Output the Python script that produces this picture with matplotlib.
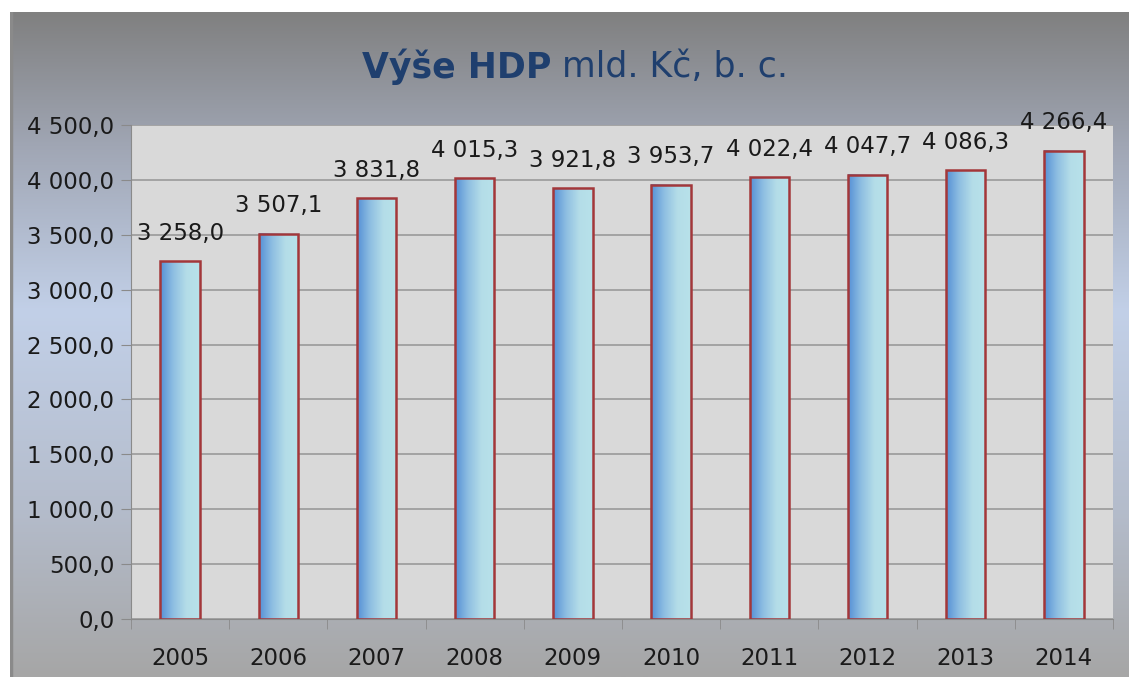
import matplotlib
matplotlib.use("Agg")
import matplotlib.pyplot as plt
import numpy as np
from matplotlib.colors import LinearSegmentedColormap
from matplotlib.ticker import FuncFormatter, MultipleLocator

years = ["2005", "2006", "2007", "2008", "2009", "2010", "2011", "2012", "2013", "2014"]
values = [3258.0, 3507.1, 3831.8, 4015.3, 3921.8, 3953.7, 4022.4, 4047.7, 4086.3, 4266.4]

plt.rcParams['font.family'] = ['DejaVu Sans']

W, H = 1129, 677
fig = plt.figure(figsize=(W / 100, H / 100), dpi=100)
fig.patch.set_facecolor("white")

# chart background gradient
bg_ax = fig.add_axes([10 / W, 0, 1 - 10 / W, 1 - 12 / H])
bg_ax.set_axis_off()
bg_cmap = LinearSegmentedColormap.from_list(
    "bg", [(0.0, "#808080"), (0.2, "#a0a6b4"), (0.45, "#c2d0e8"), (0.75, "#b4bccb"), (1.0, "#a6a6a6")])
grad = np.linspace(0, 1, 256).reshape(-1, 1)
bg_ax.imshow(grad, aspect="auto", cmap=bg_cmap, extent=[0, 1, 0, 1], origin="upper")
bg_ax.set_xlim(0, 1)
bg_ax.set_ylim(0, 1)
bg_ax.axvline(0.001, color="#8a8a8a", lw=2.5)

# plot area
x0, x1 = 131, 1113
y0, y1 = 125, 619
ax = fig.add_axes([x0 / W, 1 - y1 / H, (x1 - x0) / W, (y1 - y0) / H])
ax.set_facecolor("#d9d9d9")
ax.yaxis.set_major_locator(MultipleLocator(500))

def fmt(v, pos=None):
    return f"{v:,.1f}".replace(",", " ").replace(".", ",")

ax.yaxis.set_major_formatter(FuncFormatter(fmt))
ax.grid(axis="y", color="#9a9a9a", lw=1.2)
ax.set_axisbelow(True)

bar_cmap = LinearSegmentedColormap.from_list("bar", ["#5590d6", "#8fbfe2", "#b4dde8", "#b8e2ea"])
bw = 0.4
xs = np.arange(len(years))
bars = ax.bar(xs, values, width=bw, facecolor="none", edgecolor="#a3373a", lw=1.8, zorder=3)
hgrad = np.linspace(0, 1, 128).reshape(1, -1)
for b in bars:
    bx, by = b.get_x(), b.get_y()
    bwid, bh = b.get_width(), b.get_height()
    ax.imshow(hgrad, aspect="auto", cmap=bar_cmap, extent=[bx, bx + bwid, by, by + bh],
              zorder=2.5, interpolation="bilinear")
ax.set_xlim(-0.5, len(years) - 0.5)
ax.set_ylim(0, 4500)

FS = 16.5
for x, v in zip(xs, values):
    ax.annotate(fmt(v), (x, v), xytext=(0, 12), textcoords="offset points",
                ha="center", va="bottom", fontsize=FS, color="#1a1a1a", annotation_clip=False)

ax.set_xticks(xs)
ax.set_xticklabels(years, fontsize=FS, color="#1a1a1a")
ax.set_xticks(np.arange(-0.5, len(years), 1), minor=True)
ax.tick_params(axis="x", which="major", length=0, pad=20)
ax.tick_params(axis="x", which="minor", length=7, color="#8a8a8a", direction="out")
ax.tick_params(axis="y", length=7, color="#8a8a8a", direction="out", labelsize=FS,
               labelcolor="#1a1a1a", pad=5)
for s in ["top", "right"]:
    ax.spines[s].set_visible(False)
ax.spines["left"].set_color("#8a8a8a")
ax.spines["bottom"].set_color("#8a8a8a")

t1 = fig.text(0.0, 1 - 67 / H, "Výše HDP", fontsize=25, fontweight="bold", color="#1f3f6e",
              va="center", ha="left")
t2 = fig.text(0.0, 1 - 67 / H, " mld. Kč, b. c.", fontsize=25, color="#1f3f6e", va="center", ha="left")
fig.canvas.draw()
r = fig.canvas.get_renderer()
w1 = t1.get_window_extent(r).width
w2 = t2.get_window_extent(r).width
start = (575 - (w1 + w2) / 2) / W
t1.set_x(start)
t2.set_x(start + w1 / W)

fig.savefig("out.png", dpi=100, facecolor=fig.get_facecolor())
